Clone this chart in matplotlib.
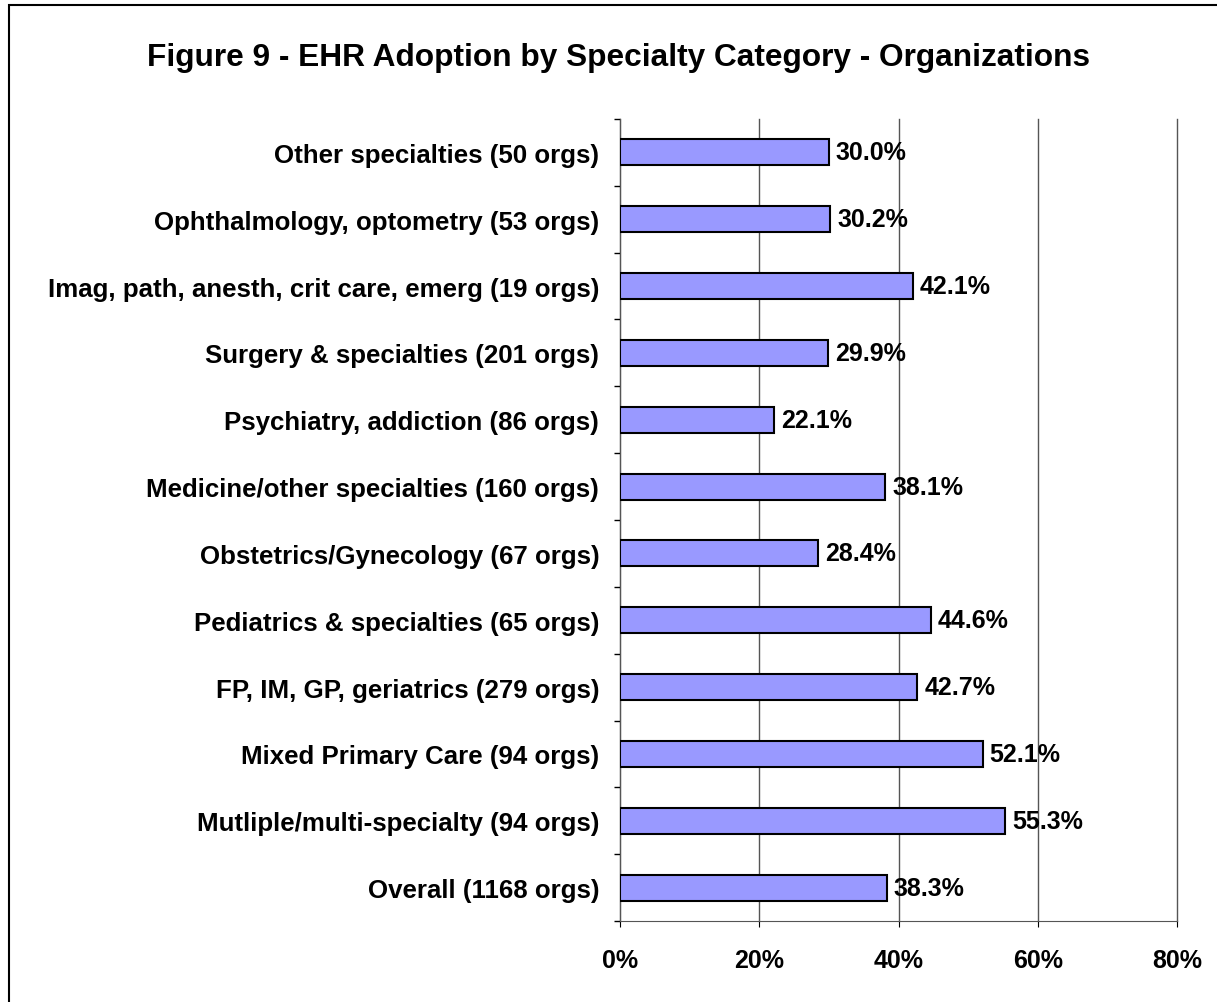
import numpy as np
import matplotlib.pyplot as plt
from matplotlib.patches import Rectangle

categories = [
    "Other specialties (50 orgs)",
    "Ophthalmology, optometry (53 orgs)",
    "Imag, path, anesth, crit care, emerg (19 orgs)",
    "Surgery & specialties (201 orgs)",
    "Psychiatry, addiction (86 orgs)",
    "Medicine/other specialties (160 orgs)",
    "Obstetrics/Gynecology (67 orgs)",
    "Pediatrics & specialties (65 orgs)",
    "FP, IM, GP, geriatrics (279 orgs)",
    "Mixed Primary Care (94 orgs)",
    "Mutliple/multi-specialty (94 orgs)",
    "Overall (1168 orgs)",
]
values = [30.0, 30.2, 42.1, 29.9, 22.1, 38.1, 28.4, 44.6, 42.7, 52.1, 55.3, 38.3]
xticks = [0, 20, 40, 60, 80]
xtick_labels = ["0%", "20%", "40%", "60%", "80%"]

plt.rcParams["font.family"] = ["Liberation Sans", "DejaVu Sans"]
plt.rcParams["font.weight"] = "bold"

fig = plt.figure(figsize=(12.17, 10.03), dpi=100)
ax = fig.add_axes([0.5095, 0.0807, 0.4576, 0.7997])

n = len(categories)
y = np.arange(n)[::-1]
ax.barh(y, values, height=0.39, color="#9999FF", edgecolor="black", linewidth=1.5, zorder=3)

for yi, v in zip(y, values):
    ax.text(v + 1.0, yi, f"{v:.1f}%", va="center", ha="left", fontsize=18, fontweight="bold", zorder=4)

ax.set_xlim(0, 80)
ax.set_ylim(-0.5, n - 0.5)
ax.set_xticks(xticks)
ax.set_xticklabels(xtick_labels, fontsize=18, fontweight="bold")
ax.set_yticks(y)
ax.set_yticklabels(categories, fontsize=18.6, fontweight="bold")
ax.tick_params(axis="y", which="major", length=0, pad=15)
ax.set_yticks(np.arange(n + 1) - 0.5, minor=True)
ax.tick_params(axis="y", which="minor", length=4.5, direction="out", width=1)
ax.tick_params(axis="x", length=4.5, direction="out", pad=15)
ax.xaxis.grid(True, color="#555555", linewidth=1, zorder=0)
for line in ax.get_xgridlines():
    line.set_clip_on(False)

for side in ["top", "right"]:
    ax.spines[side].set_visible(False)
ax.spines["left"].set_color("#555555")
ax.spines["bottom"].set_color("#555555")

fig.text(0.508, 0.942, "Figure 9 - EHR Adoption by Specialty Category - Organizations",
         ha="center", va="center", fontsize=22.8, fontweight="bold")

fig.patches.append(Rectangle((0.007, -0.01), 1.02, 1.004, transform=fig.transFigure,
                             fill=False, edgecolor="black", linewidth=1.5))

fig.savefig("out.png", dpi=100)
